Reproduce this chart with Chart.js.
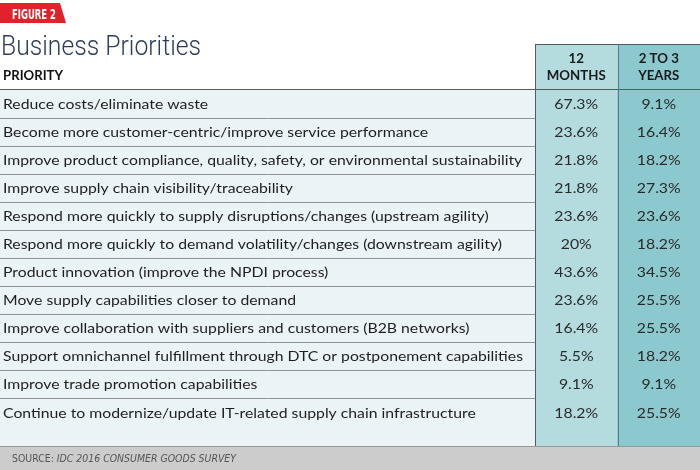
<!DOCTYPE html>
<html><head><meta charset="utf-8">
<script src="https://cdn.jsdelivr.net/npm/chart.js@4"></script>
<style>html,body{margin:0;padding:0;background:#fff}#wrap{width:700px;height:470px;position:relative}</style>
</head><body><div id="wrap"><canvas id="c" width="700" height="470"></canvas></div>
<script>
const figureLabel = 'FIGURE 2';
const title = 'Business Priorities';
const priorityHeader = 'PRIORITY';
const columnHeaders = [['12', 'MONTHS'], ['2 TO 3', 'YEARS']];
const priorities = [
  'Reduce costs/eliminate waste',
  'Become more customer-centric/improve service performance',
  'Improve product compliance, quality, safety, or environmental sustainability',
  'Improve supply chain visibility/traceability',
  'Respond more quickly to supply disruptions/changes (upstream agility)',
  'Respond more quickly to demand volatility/changes (downstream agility)',
  'Product innovation (improve the NPDI process)',
  'Move supply capabilities closer to demand',
  'Improve collaboration with suppliers and customers (B2B networks)',
  'Support omnichannel fulfillment through DTC or postponement capabilities',
  'Improve trade promotion capabilities',
  'Continue to modernize/update IT-related supply chain infrastructure'
];
const months12 = [67.3, 23.6, 21.8, 21.8, 23.6, 20, 43.6, 23.6, 16.4, 5.5, 9.1, 18.2];
const years2to3 = [9.1, 16.4, 18.2, 27.3, 23.6, 18.2, 34.5, 25.5, 25.5, 18.2, 9.1, 25.5];
const sourcePrefix = 'SOURCE: ';
const sourceText = 'IDC 2016 CONSUMER GOODS SURVEY';

const columnValues = [months12, years2to3];
const columnColors = ['#b4dcdf', '#8bc9cf'];
const lastRowExtra = 20 / 28;
const yMax = priorities.length + lastRowExtra;
const bodyFont = 'Lato, "Open Sans", sans-serif';

function drawScaled(ctx, text, x, y, sx, align) {
  ctx.save();
  ctx.translate(x, y);
  ctx.scale(sx, 1);
  ctx.textAlign = align;
  ctx.fillText(text, 0, 0);
  ctx.restore();
}
function fitScale(ctx, text, target) {
  return target / ctx.measureText(text).width;
}

const tablePlugin = {
  id: 'tablePlugin',
  beforeDatasetsDraw(chart) {
    const ctx = chart.ctx, ys = chart.scales.y, ca = chart.chartArea;
    ctx.save();
    // label column background
    ctx.fillStyle = '#eaf3f5';
    ctx.fillRect(0, ca.top, ca.left, ca.bottom - ca.top);
    // row separators
    ctx.strokeStyle = '#8d9497';
    ctx.lineWidth = 1;
    for (let i = 1; i < priorities.length; i++) {
      const y = Math.round(ys.getPixelForValue(i)) + 0.5;
      ctx.beginPath(); ctx.moveTo(0, y); ctx.lineTo(ca.left, y); ctx.stroke();
    }
    // labels
    ctx.fillStyle = '#1e1e1e';
    ctx.font = '14px ' + bodyFont;
    ctx.textBaseline = 'middle';
    const longest = priorities.reduce((a, b) => ctx.measureText(a).width > ctx.measureText(b).width ? a : b);
    const sx = fitScale(ctx, longest, 520);
    chart.$labelScale = sx;
    priorities.forEach((p, i) => {
      const y = ys.getPixelForValue(i + 0.5) + (i === priorities.length - 1 ? 1 : 0);
      drawScaled(ctx, p, 3, y, sx, 'left');
    });
    ctx.restore();
  },
  afterDatasetsDraw(chart) {
    const ctx = chart.ctx, ys = chart.scales.y, xs = chart.scales.x, ca = chart.chartArea;
    const W = chart.width;
    const sx = chart.$labelScale || 1;
    ctx.save();
    const c0 = xs.getPixelForValue(0), c1 = xs.getPixelForValue(1);
    const mid = (c0 + c1) / 2;
    const headTop = 44;
    // header cells
    ctx.fillStyle = columnColors[0];
    ctx.fillRect(ca.left, headTop, mid - ca.left, ca.top - headTop);
    ctx.fillStyle = columnColors[1];
    ctx.fillRect(mid, headTop, ca.right - mid, ca.top - headTop);
    // values
    ctx.fillStyle = '#2a2a2a';
    ctx.font = '14px ' + bodyFont;
    ctx.textBaseline = 'middle';
    columnValues.forEach((vals, c) => {
      const x = xs.getPixelForValue(c);
      vals.forEach((v, i) => {
        const y = ys.getPixelForValue(i + 0.5) + (i === vals.length - 1 ? 1 : 0);
        drawScaled(ctx, v + '%', x, y, sx, 'center');
      });
    });
    // header text
    ctx.fillStyle = '#1a1a1a';
    ctx.font = 'bold 13px ' + bodyFont;
    columnHeaders.forEach((lines, c) => {
      const x = xs.getPixelForValue(c);
      drawScaled(ctx, lines[0], x, 59, 1.02, 'center');
      drawScaled(ctx, lines[1], x, 76, 1.02, 'center');
    });
    ctx.fillStyle = '#111';
    ctx.font = 'bold 13px ' + bodyFont;
    const ps = fitScale(ctx, priorityHeader, 60);
    drawScaled(ctx, priorityHeader, 3, 76, ps, 'left');
    // lines
    ctx.strokeStyle = '#555a5c';
    ctx.lineWidth = 1;
    ctx.beginPath();
    ctx.moveTo(0, Math.round(ca.top) - 0.5); ctx.lineTo(W, Math.round(ca.top) - 0.5);
    ctx.moveTo(ca.left, headTop + 0.5); ctx.lineTo(ca.right, headTop + 0.5);
    ctx.moveTo(Math.round(ca.left) + 0.5, headTop); ctx.lineTo(Math.round(ca.left) + 0.5, ca.bottom);
    ctx.stroke();
    ctx.strokeStyle = '#4f7f86';
    ctx.beginPath();
    ctx.moveTo(Math.round(mid) + 0.5, headTop); ctx.lineTo(Math.round(mid) + 0.5, ca.bottom);
    ctx.stroke();
    // footer
    ctx.fillStyle = '#cccccc';
    ctx.fillRect(0, ca.bottom, W, chart.height - ca.bottom);
    ctx.strokeStyle = '#9a9a9a';
    ctx.beginPath(); ctx.moveTo(0, ca.bottom + 0.5); ctx.lineTo(W, ca.bottom + 0.5); ctx.stroke();
    ctx.fillStyle = '#555';
    ctx.textBaseline = 'middle';
    const ff = '"Liberation Sans Narrow", "DejaVu Sans Condensed", sans-serif';
    ctx.font = '10px ' + ff;
    const w1 = ctx.measureText(sourcePrefix).width;
    ctx.font = 'italic 10px ' + ff;
    const w2 = ctx.measureText(sourceText).width;
    const fs = 224 / (w1 + w2);
    ctx.font = '10px ' + ff;
    drawScaled(ctx, sourcePrefix, 12, 459, fs, 'left');
    ctx.font = 'italic 10px ' + ff;
    drawScaled(ctx, sourceText, 12 + w1 * fs, 459, fs, 'left');
    // title
    ctx.fillStyle = '#2b3c57';
    ctx.textBaseline = 'alphabetic';
    ctx.font = '300 27px Roboto, sans-serif';
    drawScaled(ctx, title, 1, 55, fitScale(ctx, title, 200), 'left');
    // badge
    ctx.fillStyle = '#e3212a';
    ctx.beginPath();
    ctx.moveTo(0, 3); ctx.lineTo(60, 3); ctx.lineTo(66, 23); ctx.lineTo(0, 23); ctx.closePath();
    ctx.fill();
    ctx.fillStyle = '#ffffff';
    ctx.font = 'bold 14px "DejaVu Sans Condensed", sans-serif';
    drawScaled(ctx, figureLabel, 12, 19, fitScale(ctx, figureLabel, 44), 'left');
    ctx.restore();
  }
};

new Chart(document.getElementById('c'), {
  type: 'bar',
  data: {
    labels: columnHeaders.map(h => h.join(' ')),
    datasets: [{
      label: 'columns',
      data: columnHeaders.map(() => [0, yMax]),
      backgroundColor: columnColors,
      borderWidth: 0,
      barPercentage: 1,
      categoryPercentage: 1
    }]
  },
  options: {
    responsive: false,
    devicePixelRatio: 1,
    animation: false,
    layout: { padding: { left: 535, right: 0, top: 90, bottom: 24 } },
    plugins: { legend: { display: false }, tooltip: { enabled: false }, title: { display: false } },
    scales: {
      x: { type: 'category', display: false, offset: true, grid: { display: false } },
      y: { type: 'linear', reverse: true, min: 0, max: yMax, display: false, grid: { display: false } }
    }
  },
  plugins: [tablePlugin]
});
</script></body></html>
